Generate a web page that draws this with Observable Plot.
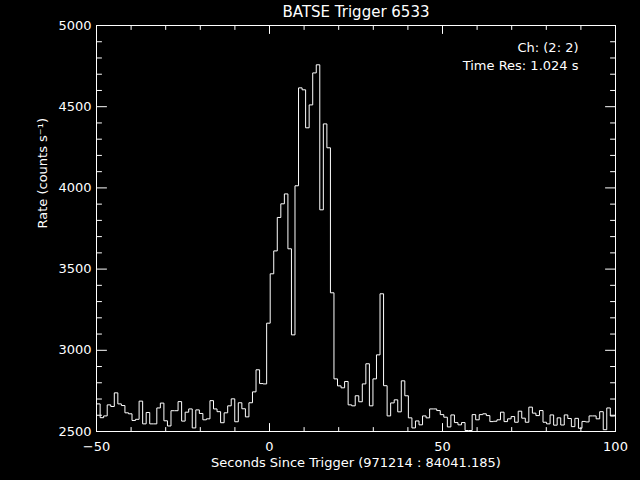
<!DOCTYPE html>
<html><head><meta charset="utf-8">
<script src="https://cdn.jsdelivr.net/npm/d3@7"></script>
<script src="https://cdn.jsdelivr.net/npm/@observablehq/plot@0.6"></script>
<style>html,body{margin:0;padding:0;background:#000;overflow:hidden;}</style>
</head><body><div id="chart"></div>
<script>
// ---- text ----
const titleText = "BATSE Trigger 6533";
const xLabelText = "Seconds Since Trigger (971214 : 84041.185)";
const yLabelText = "Rate (counts s\u207B\u00B9)";
const legendLines = ["Ch: (2: 2)", "Time Res: 1.024 s"];

// ---- axes ----
const xDomain = [-50, 100];
const yDomain = [2500, 5000];
const xMajorTicks = [-50, 0, 50, 100];
const xMinorTicks = [-40, -30, -20, -10, 10, 20, 30, 40, 60, 70, 80, 90];
const yMajorTicks = [2500, 3000, 3500, 4000, 4500, 5000];
const yMinorTicks = [2600, 2700, 2800, 2900, 3100, 3200, 3300, 3400, 3600, 3700, 3800, 3900,
                     4100, 4200, 4300, 4400, 4600, 4700, 4800, 4900];

// ---- light curve: 1.024 s bins ----
const binWidth = 1.024;
const firstBinStart = -49.976;
const rates = [
  2670, 2585, 2596, 2664, 2654, 2738, 2670, 2660, 2615, 2609,
  2568, 2575, 2687, 2547, 2617, 2547, 2547, 2645, 2675, 2566,
  2534, 2628, 2628, 2684, 2564, 2619, 2639, 2522, 2633, 2611,
  2572, 2578, 2690, 2639, 2622, 2554, 2615, 2658, 2701, 2560,
  2677, 2640, 2590, 2677, 2744, 2880, 2795, 2793, 3167,
  3471, 3612, 3818, 3902, 3963, 3625, 3095, 4013, 4616, 4604,
  4370, 4511, 4708, 4758, 3865, 4394, 4247, 3354, 2824, 2781,
  2769, 2808, 2664, 2658, 2720, 2683, 2793, 2917, 2658, 2824,
  2972, 3348, 2782, 2596, 2676, 2695, 2621, 2812, 2720, 2584,
  2522, 2565, 2541, 2596, 2584, 2639, 2639, 2629, 2604, 2588,
  2528, 2602, 2555, 2541, 2555, 2506, 2506, 2604, 2572, 2604,
  2609, 2598, 2561, 2563, 2572, 2619, 2561, 2578, 2592, 2557,
  2625, 2582, 2557, 2650, 2613, 2598, 2629, 2557, 2547, 2602,
  2539, 2584, 2540, 2602, 2580, 2530, 2581, 2520, 2562, 2559,
  2596, 2596, 2578, 2622, 2511, 2645, 2595, 2596
];

const series = rates.map((v, i) => ({t: firstBinStart + i * binWidth, v}));
series.push({t: firstBinStart + rates.length * binWidth, v: rates[rates.length - 1]});

const tickShape = {draw(context, l) { context.moveTo(0, 0); context.lineTo(0, -l); }};
const tickOpts = {anchor: "start", shape: tickShape, stroke: "white", strokeWidth: 1};

const font = "DejaVu Sans";

const plot = Plot.plot({
  width: 640,
  height: 480,
  marginLeft: 96,
  marginRight: 25,
  marginTop: 25,
  marginBottom: 49,
  style: {background: "black", color: "white", fontFamily: font, fontSize: "13px"},
  x: {domain: xDomain},
  y: {domain: yDomain},
  marks: [
    Plot.line(series, {x: "t", y: "v", curve: "step-after", stroke: "white", strokeWidth: 1, clip: true}),
    Plot.frame({stroke: "white", strokeWidth: 1}),
    // bottom ticks
    Plot.vector(xMajorTicks, {x: d => d, frameAnchor: "bottom", length: 8, rotate: 0, ...tickOpts}),
    Plot.vector(xMinorTicks, {x: d => d, frameAnchor: "bottom", length: 4, rotate: 0, ...tickOpts}),
    // top ticks
    Plot.vector(xMajorTicks, {x: d => d, frameAnchor: "top", length: 8, rotate: 180, ...tickOpts}),
    Plot.vector(xMinorTicks, {x: d => d, frameAnchor: "top", length: 4, rotate: 180, ...tickOpts}),
    // left ticks
    Plot.vector(yMajorTicks, {y: d => d, frameAnchor: "left", length: 10, rotate: 90, ...tickOpts}),
    Plot.vector(yMinorTicks, {y: d => d, frameAnchor: "left", length: 5, rotate: 90, ...tickOpts}),
    // right ticks
    Plot.vector(yMajorTicks, {y: d => d, frameAnchor: "right", length: 10, rotate: -90, ...tickOpts}),
    Plot.vector(yMinorTicks, {y: d => d, frameAnchor: "right", length: 5, rotate: -90, ...tickOpts}),
    Plot.axisX({anchor: "bottom", ticks: xMajorTicks, tickSize: 0, tickPadding: 10, label: null, fontSize: 13}),
    Plot.axisY({anchor: "left", ticks: yMajorTicks, tickSize: 0, tickPadding: 5, label: null, fontSize: 13, tickFormat: d3.format("d")}),
    Plot.text([xLabelText], {frameAnchor: "bottom", dy: 31, fill: "white", fontSize: 13, lineAnchor: "middle"}),
    Plot.text([yLabelText], {frameAnchor: "left", dx: -54, rotate: -90, fill: "white", fontSize: 13, lineAnchor: "middle"}),
    Plot.text([titleText], {frameAnchor: "top", dy: -13, fill: "white", fontSize: 15, lineAnchor: "middle"}),
    ...legendLines.map((line, i) => Plot.text([line], {frameAnchor: "top-right", dx: -37, dy: 22 + i * 18, textAnchor: "end", fill: "white", fontSize: 13, lineAnchor: "middle"}))
  ]
});
document.getElementById("chart").append(plot);
</script></body></html>
